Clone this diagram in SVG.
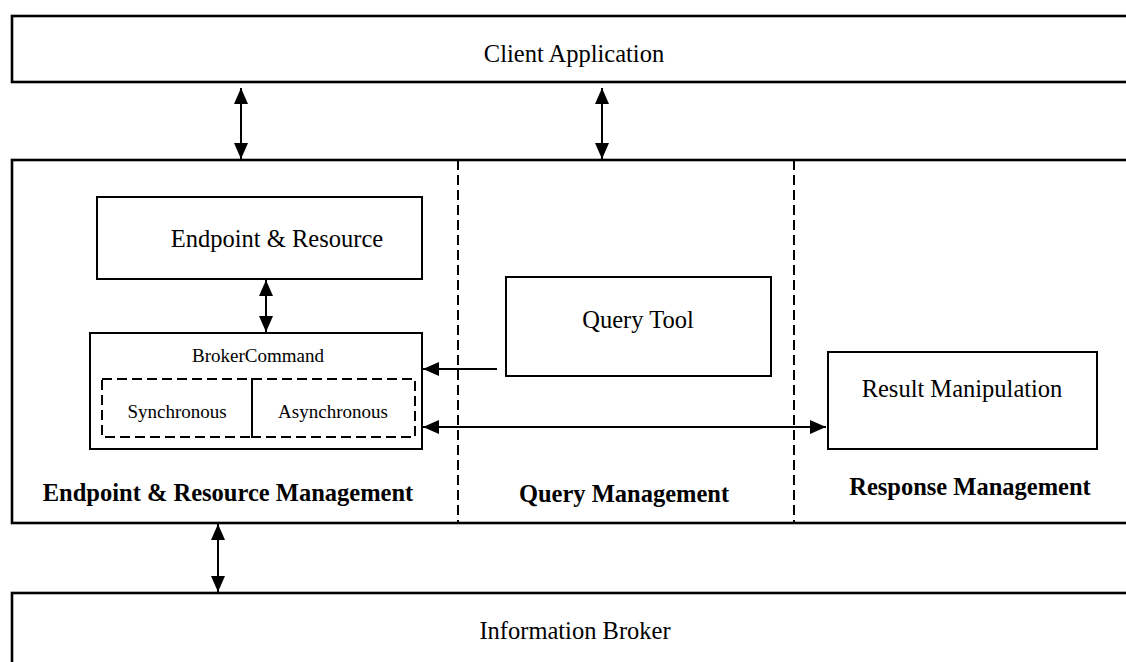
<svg xmlns="http://www.w3.org/2000/svg" width="1126" height="662" viewBox="0 0 1126 662">
<style>
.outer{fill:#fff;stroke:#000;stroke-width:2.6}
.box{fill:#fff;stroke:#000;stroke-width:2}
.dash{fill:none;stroke:#000;stroke-width:2;stroke-dasharray:10 5}
.conn{fill:none;stroke:#000;stroke-width:2}
.t{font-family:"Liberation Serif","Times New Roman",serif;font-size:24.5px;fill:#000;text-anchor:middle}
.s{font-size:19px}
.b{font-weight:bold}
</style>
<defs>
<marker id="ah" markerUnits="userSpaceOnUse" markerWidth="16" markerHeight="14" refX="16" refY="7" orient="auto-start-reverse" viewBox="0 0 16 14">
<path d="M0,0 L16,7 L0,14 z" fill="#000"/>
</marker>
</defs>
<g id="client">
<rect class="outer" x="12" y="16" width="1130" height="66"/>
<text class="t" x="574" y="62">Client Application</text>
</g>
<g id="middleware">
<rect class="outer" x="12" y="160" width="1130" height="363"/>
<line class="dash" x1="458" y1="160" x2="458" y2="523"/>
<line class="dash" x1="794" y1="160" x2="794" y2="523"/>
<text class="t b" x="228" y="501">Endpoint &amp; Resource Management</text>
<text class="t b" x="624" y="502">Query Management</text>
<text class="t b" x="970" y="495">Response Management</text>
</g>
<g id="endpoint-resource">
<rect class="box" x="97" y="197" width="325" height="82"/>
<text class="t" x="277" y="247">Endpoint &amp; Resource</text>
</g>
<g id="broker-command">
<rect class="box" x="90" y="333" width="332" height="116"/>
<text class="t s" x="258" y="362">BrokerCommand</text>
<rect class="dash" x="102" y="379" width="150" height="58"/>
<rect class="dash" x="252" y="379" width="163" height="58"/>
<line class="conn" x1="252" y1="379" x2="252" y2="437"/>
<text class="t s" x="177" y="418">Synchronous</text>
<text class="t s" x="333" y="418">Asynchronous</text>
</g>
<g id="query-tool">
<rect class="box" x="506" y="277" width="265" height="99"/>
<text class="t" x="638" y="328">Query Tool</text>
</g>
<g id="result-manipulation">
<rect class="box" x="828" y="352" width="269" height="97"/>
<text class="t" x="962" y="397">Result Manipulation</text>
</g>
<g id="information-broker">
<rect class="outer" x="12" y="593" width="1130" height="80"/>
<text class="t" x="575" y="639">Information Broker</text>
</g>
<g id="connectors">
<line class="conn" x1="241" y1="88" x2="241" y2="159" marker-start="url(#ah)" marker-end="url(#ah)"/>
<line class="conn" x1="602" y1="88" x2="602" y2="159" marker-start="url(#ah)" marker-end="url(#ah)"/>
<line class="conn" x1="266" y1="280" x2="266" y2="332" marker-start="url(#ah)" marker-end="url(#ah)"/>
<line class="conn" x1="497" y1="369" x2="423" y2="369" marker-end="url(#ah)"/>
<line class="conn" x1="423" y1="427" x2="826" y2="427" marker-start="url(#ah)" marker-end="url(#ah)"/>
<line class="conn" x1="218" y1="524" x2="218" y2="592" marker-start="url(#ah)" marker-end="url(#ah)"/>
</g>
</svg>
